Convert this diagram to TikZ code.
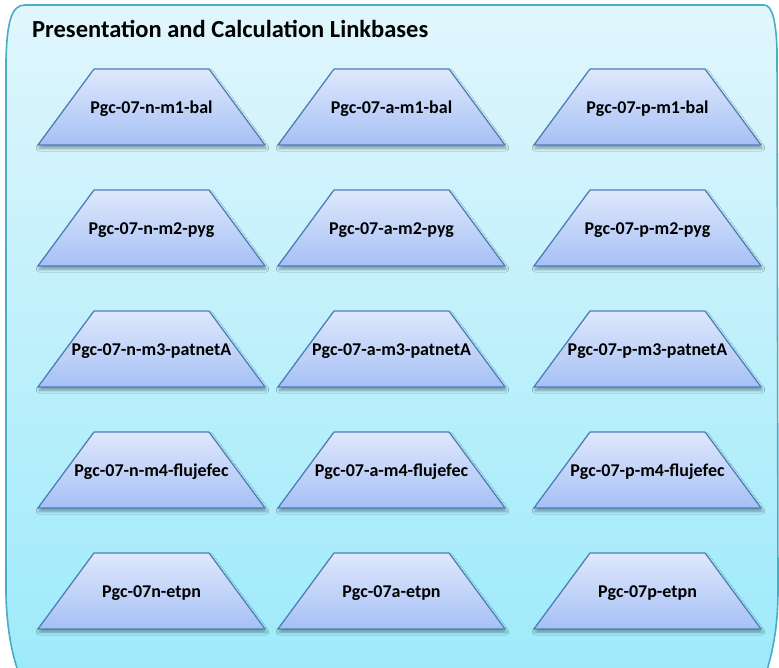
\documentclass[tikz,border=0pt]{standalone}
\usepackage{fontspec}
\setmainfont{Carlito}
\usepackage{tikz}
\usetikzlibrary{shapes.geometric,shadows.blur}
\definecolor{boxline}{HTML}{4BACC6}
\definecolor{boxtop}{HTML}{E0F6FC}
\definecolor{boxbottom}{HTML}{9DEAFB}
\definecolor{trapline}{HTML}{4A7EBB}
\definecolor{traptop}{HTML}{DFE8FC}
\definecolor{trapbottom}{HTML}{A6C0F5}
% label: body 115pt wide, 76pt high, text overflows freely
\newcommand{\lb}[1]{\makebox[115pt]{\rule[-32pt]{0pt}{76pt}\makebox[0pt]{#1}}}

\begin{document}
\begin{tikzpicture}[x=1pt, y=-1pt]
   \useasboundingbox (0,0) rectangle (779,667);
   % container
   \draw[draw=boxline, line width=1.6pt, top color=boxtop, bottom color=boxbottom]
     (25,5) -- (764,5) .. controls (772,5) and (776,20) .. (777,50)
     -- (778,590) .. controls (778,630) and (772,655) .. (764,680)
     -- (22,680) .. controls (14,665) and (6,630) .. (6,590)
     -- (6,60) .. controls (7,20) and (12,5) .. (25,5);
   \node[anchor=base west, inner sep=0pt, font=\fontsize{24.5}{28}\selectfont\bfseries] (title) at (32,37) {Presentation and Calculation Linkbases};
   \begin{scope}[every node/.style={trapezium, trapezium left angle=53.6, trapezium right angle=53.6,
       inner sep=0pt, draw=trapline, line width=1.2pt, top color=traptop, bottom color=trapbottom,
       blur shadow={shadow xshift=1pt, shadow yshift=-3pt, shadow blur radius=3pt, shadow opacity=40},
       font=\fontsize{18}{20}\selectfont\bfseries}]
    \node (n1) at (151.5,107) {\lb{Pgc-07-n-m1-bal}};
    \node (a1) at (391.5,107) {\lb{Pgc-07-a-m1-bal}};
    \node (p1) at (647.5,107) {\lb{Pgc-07-p-m1-bal}};
    \node (n2) at (151.5,228) {\lb{Pgc-07-n-m2-pyg}};
    \node (a2) at (391.5,228) {\lb{Pgc-07-a-m2-pyg}};
    \node (p2) at (647.5,228) {\lb{Pgc-07-p-m2-pyg}};
    \node (n3) at (151.5,349) {\lb{Pgc-07-n-m3-patnetA}};
    \node (a3) at (391.5,349) {\lb{Pgc-07-a-m3-patnetA}};
    \node (p3) at (647.5,349) {\lb{Pgc-07-p-m3-patnetA}};
    \node (n4) at (151.5,470) {\lb{Pgc-07-n-m4-flujefec}};
    \node (a4) at (391.5,470) {\lb{Pgc-07-a-m4-flujefec}};
    \node (p4) at (647.5,470) {\lb{Pgc-07-p-m4-flujefec}};
    \node (n5) at (151.5,591) {\lb{Pgc-07n-etpn}};
    \node (a5) at (391.5,591) {\lb{Pgc-07a-etpn}};
    \node (p5) at (647.5,591) {\lb{Pgc-07p-etpn}};
   \end{scope}
\end{tikzpicture}
\end{document}
